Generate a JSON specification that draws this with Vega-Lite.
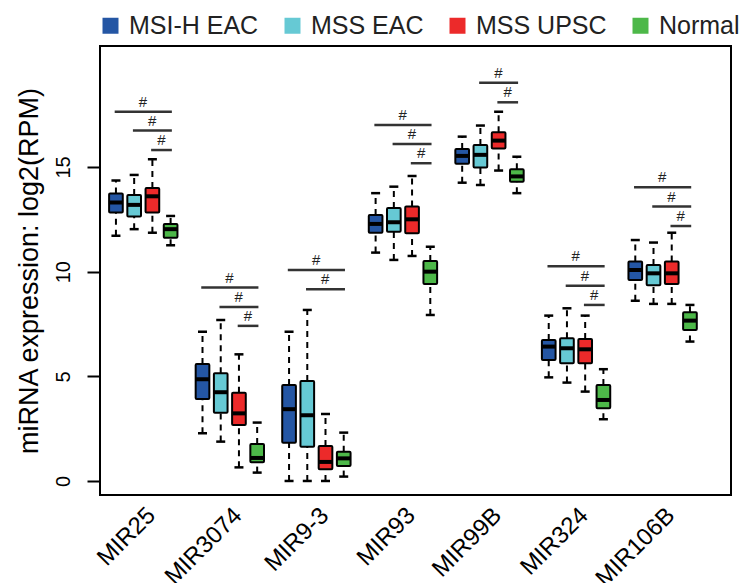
{
  "$schema": "https://vega.github.io/schema/vega-lite/v6.json",
  "width": 631,
  "height": 449,
  "autosize": {"type": "none"},
  "padding": {"left": 100, "top": 46, "right": 19, "bottom": 88},
  "config": {
    "font": "Liberation Sans",
    "view": {"stroke": "black", "strokeWidth": 2},
    "axis": {"grid": false}
  },
  "datasets": {
    "boxes": [
      {"gene": "MIR25", "group": "MSI-H EAC", "min": 11.72, "q1": 12.82, "median": 13.30, "q3": 13.73, "max": 14.35},
      {"gene": "MIR25", "group": "MSS EAC", "min": 12.03, "q1": 12.63, "median": 13.19, "q3": 13.66, "max": 14.62},
      {"gene": "MIR25", "group": "MSS UPSC", "min": 11.86, "q1": 12.82, "median": 13.60, "q3": 14.00, "max": 15.37},
      {"gene": "MIR25", "group": "Normal", "min": 11.26, "q1": 11.62, "median": 12.03, "q3": 12.28, "max": 12.66},
      {"gene": "MIR3074", "group": "MSI-H EAC", "min": 2.28, "q1": 3.92, "median": 4.86, "q3": 5.59, "max": 7.13},
      {"gene": "MIR3074", "group": "MSS EAC", "min": 1.88, "q1": 3.26, "median": 4.24, "q3": 5.15, "max": 7.69},
      {"gene": "MIR3074", "group": "MSS UPSC", "min": 0.65, "q1": 2.68, "median": 3.23, "q3": 4.22, "max": 6.05},
      {"gene": "MIR3074", "group": "Normal", "min": 0.40, "q1": 0.89, "median": 1.10, "q3": 1.77, "max": 2.79},
      {"gene": "MIR9-3", "group": "MSI-H EAC", "min": 0.0, "q1": 1.83, "median": 3.43, "q3": 4.59, "max": 7.13},
      {"gene": "MIR9-3", "group": "MSS EAC", "min": 0.0, "q1": 1.64, "median": 3.14, "q3": 4.78, "max": 8.17},
      {"gene": "MIR9-3", "group": "MSS UPSC", "min": 0.0, "q1": 0.56, "median": 0.91, "q3": 1.67, "max": 3.20},
      {"gene": "MIR9-3", "group": "Normal", "min": 0.21, "q1": 0.72, "median": 1.08, "q3": 1.40, "max": 2.31},
      {"gene": "MIR93", "group": "MSI-H EAC", "min": 10.91, "q1": 11.86, "median": 12.28, "q3": 12.71, "max": 13.75},
      {"gene": "MIR93", "group": "MSS EAC", "min": 10.56, "q1": 11.91, "median": 12.36, "q3": 13.04, "max": 14.06},
      {"gene": "MIR93", "group": "MSS UPSC", "min": 10.75, "q1": 11.83, "median": 12.50, "q3": 13.11, "max": 14.57},
      {"gene": "MIR93", "group": "Normal", "min": 7.93, "q1": 9.41, "median": 10.0, "q3": 10.51, "max": 11.19},
      {"gene": "MIR99B", "group": "MSI-H EAC", "min": 14.25, "q1": 15.15, "median": 15.53, "q3": 15.86, "max": 16.45},
      {"gene": "MIR99B", "group": "MSS EAC", "min": 14.14, "q1": 14.97, "median": 15.58, "q3": 16.05, "max": 16.98},
      {"gene": "MIR99B", "group": "MSS UPSC", "min": 14.83, "q1": 15.88, "median": 16.26, "q3": 16.66, "max": 17.64},
      {"gene": "MIR99B", "group": "Normal", "min": 13.75, "q1": 14.30, "median": 14.55, "q3": 14.89, "max": 15.49},
      {"gene": "MIR324", "group": "MSI-H EAC", "min": 4.95, "q1": 5.78, "median": 6.42, "q3": 6.74, "max": 7.90},
      {"gene": "MIR324", "group": "MSS EAC", "min": 4.70, "q1": 5.62, "median": 6.34, "q3": 6.82, "max": 8.25},
      {"gene": "MIR324", "group": "MSS UPSC", "min": 4.27, "q1": 5.62, "median": 6.29, "q3": 6.78, "max": 7.90},
      {"gene": "MIR324", "group": "Normal", "min": 2.95, "q1": 3.47, "median": 3.87, "q3": 4.59, "max": 5.34},
      {"gene": "MIR106B", "group": "MSI-H EAC", "min": 8.61, "q1": 9.60, "median": 10.08, "q3": 10.48, "max": 11.51},
      {"gene": "MIR106B", "group": "MSS EAC", "min": 8.46, "q1": 9.35, "median": 9.92, "q3": 10.32, "max": 11.39},
      {"gene": "MIR106B", "group": "MSS UPSC", "min": 8.46, "q1": 9.41, "median": 9.92, "q3": 10.48, "max": 11.86},
      {"gene": "MIR106B", "group": "Normal", "min": 6.66, "q1": 7.21, "median": 7.66, "q3": 8.06, "max": 8.41}
    ],
    "sig": [
      {"gene": "MIR25", "from": "MSI-H EAC", "to": "Normal", "y": 17.64},
      {"gene": "MIR25", "from": "MSS EAC", "to": "Normal", "y": 16.74},
      {"gene": "MIR25", "from": "MSS UPSC", "to": "Normal", "y": 15.81},
      {"gene": "MIR3074", "from": "MSI-H EAC", "to": "Normal", "y": 9.24},
      {"gene": "MIR3074", "from": "MSS EAC", "to": "Normal", "y": 8.31},
      {"gene": "MIR3074", "from": "MSS UPSC", "to": "Normal", "y": 7.41},
      {"gene": "MIR9-3", "from": "MSI-H EAC", "to": "Normal", "y": 10.08},
      {"gene": "MIR9-3", "from": "MSS EAC", "to": "Normal", "y": 9.16},
      {"gene": "MIR93", "from": "MSI-H EAC", "to": "Normal", "y": 17.01},
      {"gene": "MIR93", "from": "MSS EAC", "to": "Normal", "y": 16.10},
      {"gene": "MIR93", "from": "MSS UPSC", "to": "Normal", "y": 15.18},
      {"gene": "MIR99B", "from": "MSS EAC", "to": "Normal", "y": 19.03},
      {"gene": "MIR99B", "from": "MSS UPSC", "to": "Normal", "y": 18.09},
      {"gene": "MIR324", "from": "MSI-H EAC", "to": "Normal", "y": 10.26},
      {"gene": "MIR324", "from": "MSS EAC", "to": "Normal", "y": 9.33},
      {"gene": "MIR324", "from": "MSS UPSC", "to": "Normal", "y": 8.41},
      {"gene": "MIR106B", "from": "MSI-H EAC", "to": "Normal", "y": 14.03},
      {"gene": "MIR106B", "from": "MSS EAC", "to": "Normal", "y": 13.11},
      {"gene": "MIR106B", "from": "MSS UPSC", "to": "Normal", "y": 12.18}
    ]
  },
  "data": {"name": "boxes"},
  "encoding": {
    "x": {
      "field": "gene", "type": "nominal", "sort": null,
      "scale": {"domain": ["MIR25", "MIR3074", "MIR9-3", "MIR93", "MIR99B", "MIR324", "MIR106B"], "paddingInner": 0, "paddingOuter": 0.145, "align": 0},
      "axis": {"title": null, "domain": false, "ticks": false, "labelAngle": -45, "labelFontSize": 24, "labelColor": "black", "labelPadding": 8, "labelAlign": "right", "labelBaseline": "top"}
    },
    "y": {
      "type": "quantitative",
      "scale": {"domain": [-0.67, 20.78], "nice": false, "zero": false},
      "axis": {"title": "miRNA expression: log2(RPM)", "values": [0, 5, 10, 15], "domain": false, "tickSize": 13, "tickWidth": 2, "tickColor": "black", "labelAngle": -90, "labelAlign": "center", "labelBaseline": "bottom", "labelFontSize": 20, "labelColor": "black", "labelPadding": 14, "titleFontSize": 27, "titleFontWeight": "normal", "titleColor": "black", "titlePadding": 10}
    }
  },
  "layer": [
    {
      "mark": {"type": "rule", "strokeDash": [6, 5], "strokeWidth": 2, "color": "black"},
      "encoding": {
        "xOffset": {"field": "group", "type": "nominal", "scale": {"domain": ["MSI-H EAC", "MSS EAC", "MSS UPSC", "Normal"], "paddingInner": 0.25, "paddingOuter": 0.5}},
        "y": {"field": "q3", "type": "quantitative"},
        "y2": {"field": "max"}
      }
    },
    {
      "mark": {"type": "rule", "strokeDash": [6, 5], "strokeWidth": 2, "color": "black"},
      "encoding": {
        "xOffset": {"field": "group", "type": "nominal"},
        "y": {"field": "min", "type": "quantitative"},
        "y2": {"field": "q1"}
      }
    },
    {
      "mark": {"type": "tick", "size": 9, "thickness": 2.5, "color": "black", "opacity": 1},
      "encoding": {
        "xOffset": {"field": "group", "type": "nominal"},
        "y": {"field": "max", "type": "quantitative"}
      }
    },
    {
      "mark": {"type": "tick", "size": 9, "thickness": 2.5, "color": "black", "opacity": 1},
      "encoding": {
        "xOffset": {"field": "group", "type": "nominal"},
        "y": {"field": "min", "type": "quantitative"}
      }
    },
    {
      "mark": {"type": "bar", "stroke": "black", "strokeWidth": 2, "cornerRadius": 1},
      "encoding": {
        "xOffset": {"field": "group", "type": "nominal"},
        "y": {"field": "q1", "type": "quantitative"},
        "y2": {"field": "q3"},
        "fill": {
          "field": "group", "type": "nominal",
          "scale": {"domain": ["MSI-H EAC", "MSS EAC", "MSS UPSC", "Normal"], "range": ["#2456a4", "#66c9d4", "#ec2a2a", "#4db849"]},
          "legend": {"title": null, "orient": "none", "legendX": -2, "legendY": -33, "direction": "horizontal", "symbolType": "square", "symbolSize": 256, "symbolStrokeWidth": 0, "labelFontSize": 25, "labelColor": "#222222", "labelOffset": 6, "columnPadding": 21}
        }
      }
    },
    {
      "mark": {"type": "tick", "thickness": 4, "size": 14, "color": "black", "opacity": 1},
      "encoding": {
        "xOffset": {"field": "group", "type": "nominal"},
        "y": {"field": "median", "type": "quantitative"}
      }
    },
    {
      "data": {"name": "sig"},
      "transform": [{"fold": ["from", "to"], "as": ["end", "group"]}],
      "mark": {"type": "line", "color": "#333333", "strokeWidth": 2.5, "strokeCap": "square"},
      "encoding": {
        "xOffset": {"field": "group", "type": "nominal"},
        "y": {"field": "y", "type": "quantitative"},
        "detail": [{"field": "gene", "type": "nominal"}, {"field": "from", "type": "nominal"}],
        "order": {"field": "end", "type": "nominal"}
      }
    },
    {
      "data": {"name": "sig"},
      "transform": [{"filter": "datum.from === 'MSI-H EAC'"}],
      "mark": {"type": "text", "text": "#", "fontSize": 15, "color": "#222222", "dx": 27, "dy": -5, "baseline": "alphabetic"},
      "encoding": {
        "xOffset": {"field": "from", "type": "nominal"},
        "y": {"field": "y", "type": "quantitative"}
      }
    },
    {
      "data": {"name": "sig"},
      "transform": [{"filter": "datum.from === 'MSS EAC'"}],
      "mark": {"type": "text", "text": "#", "fontSize": 15, "color": "#222222", "dx": 18, "dy": -5, "baseline": "alphabetic"},
      "encoding": {
        "xOffset": {"field": "from", "type": "nominal"},
        "y": {"field": "y", "type": "quantitative"}
      }
    },
    {
      "data": {"name": "sig"},
      "transform": [{"filter": "datum.from === 'MSS UPSC'"}],
      "mark": {"type": "text", "text": "#", "fontSize": 15, "color": "#222222", "dx": 9, "dy": -5, "baseline": "alphabetic"},
      "encoding": {
        "xOffset": {"field": "from", "type": "nominal"},
        "y": {"field": "y", "type": "quantitative"}
      }
    }
  ]
}
